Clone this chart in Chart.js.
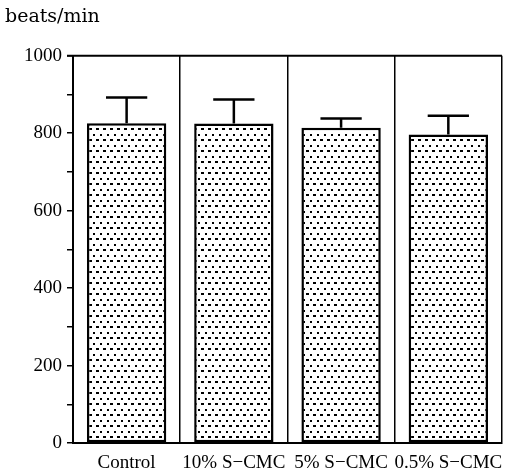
<!DOCTYPE html>
<html>
<head>
<meta charset="utf-8">
<script src="https://cdn.jsdelivr.net/npm/chart.js@4.4.1/dist/chart.umd.min.js"></script>
<style>
  html, body { margin: 0; padding: 0; background: #fff; }
  #wrap { width: 512px; height: 472px; }
</style>
</head>
<body>
<div id="wrap"><canvas id="heartRate" width="512" height="472"></canvas></div>
<script>
const groups = ["Control", "10% S\u2212CMC", "5% S\u2212CMC", "0.5% S\u2212CMC"];
const meanRate = [826, 825, 814, 797];
const errRate = [66, 62, 24, 48];
const yTicks = [0, 200, 400, 600, 800, 1000];

const SERIF = "'Liberation Serif', 'DejaVu Serif', serif";

// dotted fill like the printed screen tone
function dotPattern() {
    let c = document.createElement("canvas");
    c.width = 7; c.height = 11;
    let g = c.getContext("2d");
    g.fillStyle = "#fff";
    g.fillRect(0, 0, 7, 11);
    g.fillStyle = "#000";
    g.fillRect(2, 2, 2, 2);
    g.fillRect(5, 7, 2, 2);
    g.fillRect(0, 7, 1, 2);
    return g.createPattern(c, "repeat");
}

// error bars (upper only) + top frame line
const errorBars = {
    id: "errorBars",
    afterDatasetsDraw(chart) {
        let ctx = chart.ctx;
        let y = chart.scales.y;
        let meta = chart.getDatasetMeta(0);
        let area = chart.chartArea;
        ctx.save();
        ctx.strokeStyle = "#000";
        ctx.lineWidth = 2.5;
        meta.data.forEach((bar, i) => {
            let yTop = y.getPixelForValue(meanRate[i] + errRate[i]);
            let yBar = y.getPixelForValue(meanRate[i]);
            let half = bar.width * 0.26;
            ctx.beginPath();
            ctx.moveTo(bar.x, yBar);
            ctx.lineTo(bar.x, yTop);
            ctx.moveTo(bar.x - half, yTop);
            ctx.lineTo(bar.x + half, yTop);
            ctx.stroke();
        });
        ctx.lineWidth = 2;
        ctx.beginPath();
        ctx.moveTo(area.left - 6, area.top);
        ctx.lineTo(area.right, area.top);
        ctx.stroke();
        ctx.restore();
    }
};

let ctx = document.getElementById("heartRate").getContext("2d");

new Chart(ctx, {
    type: "bar",
    data: {
        labels: groups,
        datasets: [{
            data: meanRate,
            backgroundColor: dotPattern(),
            borderColor: "#000",
            borderWidth: 2.5,
            borderSkipped: false,
            categoryPercentage: 1,
            barPercentage: 0.74
        }]
    },
    options: {
        responsive: false,
        animation: false,
        layout: { padding: { left: 5, right: 6, top: 0, bottom: 0 } },
        plugins: {
            legend: { display: false },
            tooltip: { enabled: false },
            title: {
                display: true,
                text: "beats/min",
                align: "start",
                color: "#000",
                font: { family: "'DejaVu Serif', serif", size: 19, weight: "normal" },
                padding: { top: 6, bottom: 27 }
            }
        },
        scales: {
            x: {
                offset: true,
                afterFit: s => { s.height = 29; },
                grid: {
                    offset: true,
                    color: "#000",
                    lineWidth: 1.5,
                    drawTicks: false
                },
                border: { color: "#000", width: 2 },
                ticks: {
                    color: "#000",
                    padding: 9,
                    maxRotation: 0,
                    minRotation: 0,
                    autoSkip: false,
                    font: { family: SERIF, size: 19 }
                }
            },
            y: {
                min: 0,
                max: 1000,
                afterFit: s => { s.width = 68; },
                grid: {
                    drawOnChartArea: false,
                    color: "#000",
                    lineWidth: 1.5,
                    tickLength: 6
                },
                border: { color: "#000", width: 2 },
                ticks: {
                    stepSize: 100,
                    color: "#000",
                    padding: 5,
                    font: { family: SERIF, size: 19 },
                    callback: v => yTicks.includes(v) ? v : ""
                }
            }
        }
    },
    plugins: [errorBars]
});
</script>
</body>
</html>
